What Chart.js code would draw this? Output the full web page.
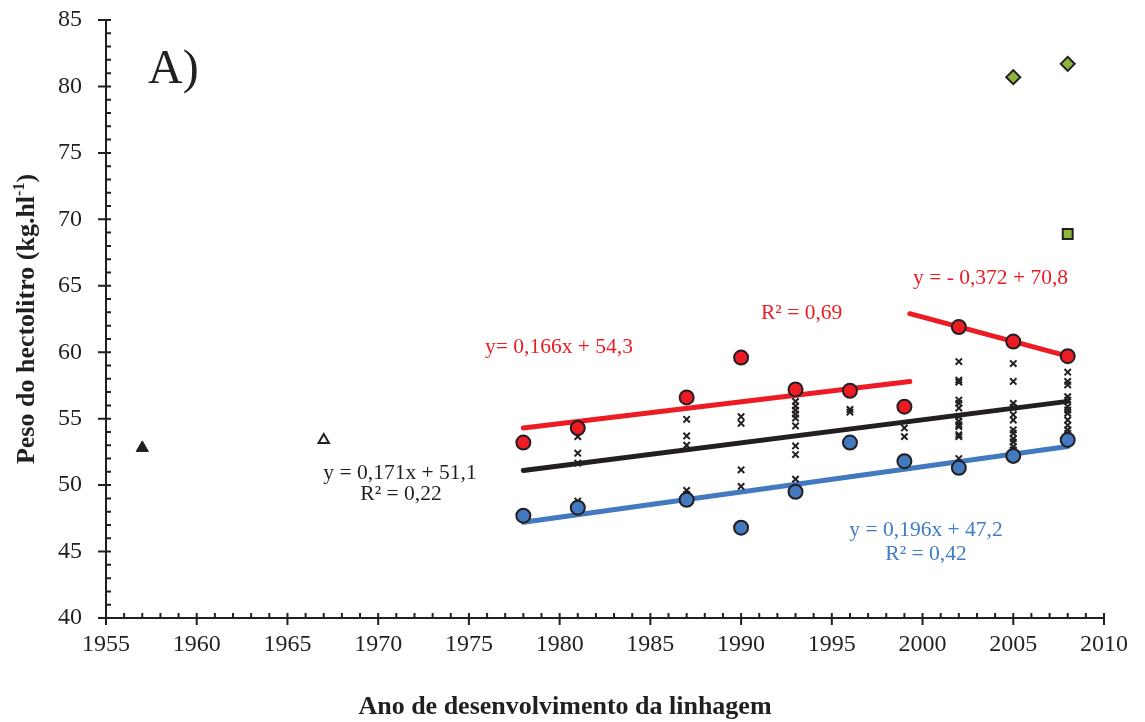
<!DOCTYPE html>
<html>
<head>
<meta charset="utf-8">
<script src="https://cdn.jsdelivr.net/npm/chart.js@4"></script>
<style>
  html, body { margin: 0; padding: 0; background: #fff; }
  #wrap { width: 1145px; height: 722px; position: relative; }
</style>
</head>
<body>
<div id="wrap"><canvas id="chart"></canvas></div>
<script>
// Ano x peso do hectolitro
const years = [1978, 1981, 1987, 1990, 1993, 1996, 1999, 2002, 2005, 2008];
const maxVals = [53.2, 54.3, 56.6, 59.6, 57.2, 57.1, 55.9, 61.9, 60.8, 59.7];
const minVals = [47.7, 48.3, 48.9, 46.8, 49.5, 53.2, 51.8, 51.3, 52.2, 53.4];

// linhagens individuais (x)
const crossYears = [1981, 1987, 1990, 1993, 1996, 1999, 2002, 2005, 2008];
const crossVals = [
    [53.65, 52.4, 51.65, 48.8],
    [54.95, 53.7, 53.0, 49.6, 49.3],
    [55.15, 54.65, 51.15, 49.9],
    [56.3, 55.95, 55.65, 55.35, 55.05, 54.45, 52.95, 52.3, 50.45],
    [55.7, 55.5],
    [54.3, 53.65],
    [59.3, 57.9, 57.75, 56.4, 56.15, 55.8, 55.15, 54.8, 54.55, 54.4, 53.8, 53.65, 52.0],
    [59.15, 57.8, 56.15, 55.85, 55.3, 54.9, 54.15, 53.9, 53.5, 53.25, 52.9, 52.65],
    [58.5, 57.8, 57.55, 56.65, 56.4, 55.9, 55.65, 55.4, 54.9, 54.5, 54.15, 53.9]
];

const oldFilled = [{ x: 1957, y: 52.8 }];
const oldOpen = [{ x: 1967, y: 53.4 }];
const diamonds = [{ x: 2005, y: 80.7 }, { x: 2008, y: 81.7 }];
const squares = [{ x: 2008, y: 68.9 }];

// linhas de tendência (extremos)
const redTrendA = [{ x: 1978, y: 54.3 }, { x: 1999.3, y: 57.8 }];
const redTrendB = [{ x: 1999.3, y: 62.9 }, { x: 2008, y: 59.7 }];
const blackTrend = [{ x: 1978, y: 51.1 }, { x: 2008, y: 56.3 }];
const blueTrend = [{ x: 1978, y: 47.2 }, { x: 2008, y: 52.9 }];

const xMin = 1955, xMax = 2010, xStep = 5;
const yMin = 40, yMax = 85, yStep = 5;

const RED = '#ed1c24';
const BLUE = '#4279bf';
const BLUE_TXT = '#3f7cc4';
const DARK = '#231f20';
const GREEN = '#8db63c';
const FONT = '"Liberation Serif", "Times New Roman", serif';

const crossPoints = [];
crossYears.forEach((yr, i) => {
    crossVals[i].forEach(v => crossPoints.push({ x: yr, y: v }));
});

function pts(xs, ys) {
    return xs.map((x, i) => ({ x: x, y: ys[i] }));
}

function lineSet(data, color) {
    return {
        type: 'line', data: data, borderColor: color, borderWidth: 5,
        pointRadius: 0, fill: false, order: 5, borderCapStyle: 'round'
    };
}

// ticks e textos desenhados à mão
const decorPlugin = {
    id: 'decor',
    afterDraw(chart) {
        const ctx = chart.ctx;
        const xs = chart.scales.x, ys = chart.scales.y;
        const left = xs.left, right = xs.right, top = ys.top, bottom = ys.bottom;
        ctx.save();
        ctx.strokeStyle = DARK;
        ctx.lineWidth = 2;
        ctx.beginPath();
        ctx.moveTo(left, top); ctx.lineTo(left, bottom);
        ctx.moveTo(left, bottom); ctx.lineTo(right, bottom);
        for (let v = yMin; v <= yMax; v++) {
            const p = ys.getPixelForValue(v);
            if (v % yStep === 0) { ctx.moveTo(left - 8, p); ctx.lineTo(left + 5, p); }
            else { ctx.moveTo(left, p); ctx.lineTo(left + 5, p); }
        }
        for (let v = xMin; v <= xMax; v++) {
            const p = xs.getPixelForValue(v);
            if (v % xStep === 0) { ctx.moveTo(p, bottom - 5); ctx.lineTo(p, bottom + 7); }
            else { ctx.moveTo(p, bottom - 5); ctx.lineTo(p, bottom); }
        }
        ctx.stroke();

        ctx.textBaseline = 'alphabetic';
        ctx.fillStyle = DARK;
        ctx.font = '48px ' + FONT;
        ctx.textAlign = 'left';
        ctx.fillText('A)', 148, 83);

        ctx.font = '21.5px ' + FONT;
        ctx.fillStyle = RED;
        ctx.fillText('y= 0,166x + 54,3', 485, 353);
        ctx.fillText('R² = 0,69', 761, 319);
        ctx.fillText('y = - 0,372 + 70,8', 913, 284);

        ctx.textAlign = 'center';
        ctx.fillStyle = DARK;
        ctx.fillText('y = 0,171x + 51,1', 400, 479);
        ctx.fillText('R² = 0,22', 401, 500);
        ctx.fillStyle = BLUE_TXT;
        ctx.fillText('y = 0,196x + 47,2', 926, 536);
        ctx.fillText('R² = 0,42', 926, 560);

        // títulos dos eixos
        ctx.fillStyle = DARK;
        ctx.font = 'bold 26px ' + FONT;
        ctx.fillText('Ano de desenvolvimento da linhagem', 565, 714);

        ctx.translate(34, (top + bottom) / 2);
        ctx.rotate(-Math.PI / 2);
        const main = 'Peso do hectolitro (kg.hl';
        const sup = '-1';
        ctx.font = 'bold 26px ' + FONT;
        const w1 = ctx.measureText(main).width;
        const w3 = ctx.measureText(')').width;
        ctx.font = 'bold 16px ' + FONT;
        const w2 = ctx.measureText(sup).width;
        let x0 = -(w1 + w2 + w3) / 2;
        ctx.textAlign = 'left';
        ctx.font = 'bold 26px ' + FONT;
        ctx.fillText(main, x0, 0);
        ctx.font = 'bold 16px ' + FONT;
        ctx.fillText(sup, x0 + w1, -10);
        ctx.font = 'bold 26px ' + FONT;
        ctx.fillText(')', x0 + w1 + w2, 0);
        ctx.restore();
    }
};

new Chart(document.getElementById('chart'), {
    type: 'scatter',
    data: {
        datasets: [
            lineSet(redTrendA, RED),
            lineSet(redTrendB, RED),
            lineSet(blackTrend, DARK),
            lineSet(blueTrend, BLUE),
            {
                label: 'linhagens', data: crossPoints, pointStyle: 'crossRot',
                pointRadius: 4.5, borderColor: DARK, borderWidth: 2, order: 3
            },
            {
                label: 'máximo', data: pts(years, maxVals), pointStyle: 'circle',
                pointRadius: 7, backgroundColor: RED, borderColor: DARK, borderWidth: 2, order: 1
            },
            {
                label: 'mínimo', data: pts(years, minVals), pointStyle: 'circle',
                pointRadius: 7, backgroundColor: BLUE, borderColor: DARK, borderWidth: 2, order: 1
            },
            {
                label: '1957', data: oldFilled, pointStyle: 'triangle',
                pointRadius: 7, backgroundColor: DARK, borderColor: DARK, borderWidth: 1, order: 1
            },
            {
                label: '1967', data: oldOpen, pointStyle: 'triangle',
                pointRadius: 6, backgroundColor: '#fff', borderColor: DARK, borderWidth: 2, order: 1
            },
            {
                label: 'losango', data: diamonds, pointStyle: 'rectRot',
                pointRadius: 7, backgroundColor: GREEN, borderColor: DARK, borderWidth: 2, order: 1
            },
            {
                label: 'quadrado', data: squares, pointStyle: 'rect',
                pointRadius: 7, backgroundColor: GREEN, borderColor: DARK, borderWidth: 2, order: 1
            }
        ]
    },
    options: {
        responsive: true,
        maintainAspectRatio: false,
        animation: false,
        layout: { padding: { left: 0, right: 41, top: 20, bottom: 0 } },
        plugins: {
            legend: { display: false },
            tooltip: { enabled: false }
        },
        scales: {
            x: {
                type: 'linear', min: xMin, max: xMax,
                border: { display: false },
                grid: { display: false, drawTicks: false },
                ticks: {
                    stepSize: xStep, padding: 12, color: DARK,
                    font: { family: FONT, size: 24 },
                    callback: v => String(v)
                },
                afterFit: s => { s.height = 104; s.paddingLeft = 0; s.paddingRight = 0; }
            },
            y: {
                min: yMin, max: yMax,
                border: { display: false },
                grid: { display: false, drawTicks: false },
                ticks: {
                    stepSize: yStep, padding: 24, color: DARK,
                    font: { family: FONT, size: 24 }
                },
                afterFit: s => { s.width = 106; s.paddingTop = 0; s.paddingBottom = 0; }
            }
        }
    },
    plugins: [decorPlugin]
});
</script>
</body>
</html>
